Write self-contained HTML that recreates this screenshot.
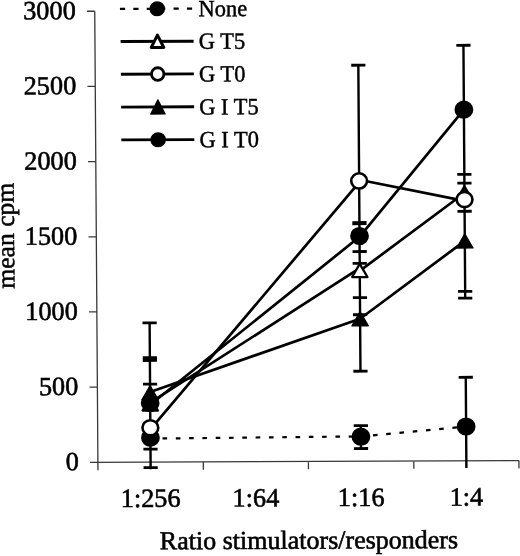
<!DOCTYPE html><html><head><meta charset="utf-8"><style>html,body{margin:0;padding:0;background:#fff;width:520px;height:556px;overflow:hidden}svg{display:block;filter:grayscale(1)}text{font-family:"Liberation Serif",serif;fill:#000;stroke:#000;stroke-width:0.6px}</style></head><body>
<svg width="520" height="556" viewBox="0 0 520 556">
<g transform="matrix(1,-0.0041,0.007,1,-3.236,0.401)">
<path d="M97.9 11.2 V470.3 M90.1 462.3 H518.9 M90.1 11.2 H97.9 M90.1 86.38 H97.9 M90.1 161.57 H97.9 M90.1 236.75 H97.9 M90.1 311.93 H97.9 M90.1 387.12 H97.9 M203.3 462.3 V470.1 M308.4 462.3 V470.1 M413.8 462.3 V470.1 M518.9 462.3 V470.1" stroke="#383838" stroke-width="1.3" fill="none"/>
<text x="78.9" y="19" font-size="26.3" text-anchor="end">3000</text>
<text x="78.9" y="94.18" font-size="26.3" text-anchor="end">2500</text>
<text x="78.9" y="169.37" font-size="26.3" text-anchor="end">2000</text>
<text x="78.9" y="244.55" font-size="26.3" text-anchor="end">1500</text>
<text x="78.9" y="319.73" font-size="26.3" text-anchor="end">1000</text>
<text x="78.9" y="394.92" font-size="26.3" text-anchor="end">500</text>
<text x="78.9" y="470.1" font-size="26.3" text-anchor="end">0</text>
<text x="150.4" y="507.1" font-size="26.3" text-anchor="middle">1:256</text>
<text x="255.65" y="507.1" font-size="26.3" text-anchor="middle">1:64</text>
<text x="360.9" y="507.1" font-size="26.3" text-anchor="middle">1:16</text>
<text x="466.15" y="507.1" font-size="26.3" text-anchor="middle">1:4</text>
<text x="308.4" y="549.6" font-size="26" text-anchor="middle">Ratio stimulators/responders</text>
<text transform="translate(15.6,235.4) rotate(-90)" font-size="25.6" text-anchor="middle" style="stroke-width:0.5px">mean cpm</text>
<path d="M150.6 323.1 V469.5 M361.1 66.3 V372.3 M361.1 426.7 V449.6 M466.35 46.8 V299.7 M466.35 378.8 V469.5" stroke="#000" stroke-width="2.4" fill="none"/>
<path d="M143.5 323.1 H157.7 M143.5 357.9 H157.7 M143.5 360.7 H157.7 M143.5 384.4 H157.7 M143.5 449.3 H157.7 M143.5 467.9 H157.7 M354 66.3 H368.2 M354 252.6 H368.2 M354 264.5 H368.2 M354 298.7 H368.2 M354 315.8 H368.2 M354 372.3 H368.2 M354 426.7 H368.2 M354 449.6 H368.2 M459.25 46.8 H473.45 M459.25 175.9 H473.45 M459.25 184.6 H473.45 M459.25 212.8 H473.45 M459.25 292.9 H473.45 M459.25 299.7 H473.45 M459.25 378.8 H473.45" stroke="#000" stroke-width="2.8" fill="none"/>
<path d="M354 224.2 H368.2" stroke="#000" stroke-width="4" fill="none"/>
<path d="M150.6 438.8 L361.1 437.5" stroke="#000" stroke-width="2.2" fill="none" stroke-dasharray="4.6 8.7" stroke-dashoffset="1.2"/>
<path d="M361.1 437.5 L466.35 428" stroke="#000" stroke-width="2.2" fill="none" stroke-dasharray="4.6 8.7" stroke-dashoffset="1.2"/>
<path d="M150.6 402.8 L361.1 269.3M361.1 272 L466.35 194.5" stroke="#000" stroke-width="2.7" fill="none" stroke-linejoin="round"/>
<path d="M150.6 429.5 L361.1 183.5M361.1 180.8 L466.35 202.4" stroke="#000" stroke-width="2.7" fill="none" stroke-linejoin="round"/>
<path d="M150.6 392.2 L361.1 319.8 L466.35 242.4" stroke="#000" stroke-width="2.7" fill="none" stroke-linejoin="round"/>
<path d="M150.6 405 L361.1 237.9 L466.35 111.2" stroke="#000" stroke-width="2.7" fill="none" stroke-linejoin="round"/>
<ellipse cx="150.6" cy="437.9" rx="9.4" ry="9.1"/>
<ellipse cx="361.1" cy="437.8" rx="9.4" ry="9.1"/>
<ellipse cx="466.35" cy="428" rx="9.4" ry="9.1"/>
<polygon points="150.6,397.6 158.25,410.8 142.95,410.8" fill="#fff" stroke="#000" stroke-width="2.3" stroke-linejoin="round"/>
<polygon points="361.1,264.9 368.75,278.1 353.45,278.1" fill="#fff" stroke="#000" stroke-width="2.3" stroke-linejoin="round"/>
<polygon points="466.35,187.9 474,201.1 458.7,201.1" fill="#000" stroke="#000" stroke-width="2.3" stroke-linejoin="round"/>
<ellipse cx="150.6" cy="428" rx="7.9" ry="7.6" fill="#fff" stroke="#000" stroke-width="2.6"/>
<ellipse cx="361.1" cy="182" rx="7.9" ry="7.6" fill="#fff" stroke="#000" stroke-width="2.6"/>
<ellipse cx="466.35" cy="201" rx="7.9" ry="7.6" fill="#fff" stroke="#000" stroke-width="2.6"/>
<polygon points="150.6,385.65 158.8,399.95 142.4,399.95" stroke="#000" stroke-width="1.2" stroke-linejoin="round"/>
<polygon points="361.1,312.65 369.3,326.95 352.9,326.95" stroke="#000" stroke-width="1.2" stroke-linejoin="round"/>
<polygon points="466.35,235.25 474.55,249.55 458.15,249.55" stroke="#000" stroke-width="1.2" stroke-linejoin="round"/>
<ellipse cx="150.6" cy="403.2" rx="9.4" ry="9.1"/>
<ellipse cx="361.1" cy="237.1" rx="9.4" ry="9.1"/>
<ellipse cx="466.35" cy="111.2" rx="9.4" ry="9.1"/>
<path d="M123.1 9 H196" stroke="#000" stroke-width="2.2" fill="none" stroke-dasharray="5.2 8.2"/>
<ellipse cx="160.4" cy="9" rx="7.8" ry="7.6"/>
<text transform="translate(201.6,16.7) scale(0.972,1)" font-size="23.2" style="stroke-width:0.45px">None</text>
<path d="M123.6 41.6 H196.6" stroke="#000" stroke-width="2.9" fill="none"/>
<polygon points="160.4,35.4 166.7,47.8 154.1,47.8" fill="#fff" stroke="#000" stroke-width="3" stroke-linejoin="round"/>
<text transform="translate(201.6,49.3) scale(0.972,1)" font-size="23.2" style="stroke-width:0.45px">G T5</text>
<path d="M123.6 74.3 H196.6" stroke="#000" stroke-width="2.9" fill="none"/>
<ellipse cx="160.4" cy="74.3" rx="6.2" ry="6.3" fill="#fff" stroke="#000" stroke-width="2.8"/>
<text transform="translate(201.6,82) scale(0.972,1)" font-size="23.2" style="stroke-width:0.45px">G T0</text>
<path d="M123.6 107.2 H196.6" stroke="#000" stroke-width="2.9" fill="none"/>
<polygon points="160.4,100.1 167.6,114.3 153.2,114.3" stroke="#000" stroke-width="1.2" stroke-linejoin="round"/>
<text transform="translate(201.6,114.9) scale(0.972,1)" font-size="23.2" style="stroke-width:0.45px">G I T5</text>
<path d="M123.6 140 H196.6" stroke="#000" stroke-width="2.9" fill="none"/>
<ellipse cx="160.4" cy="140" rx="7.8" ry="7.6"/>
<text transform="translate(201.6,147.7) scale(0.972,1)" font-size="23.2" style="stroke-width:0.45px">G I T0</text>
</g></svg></body></html>
